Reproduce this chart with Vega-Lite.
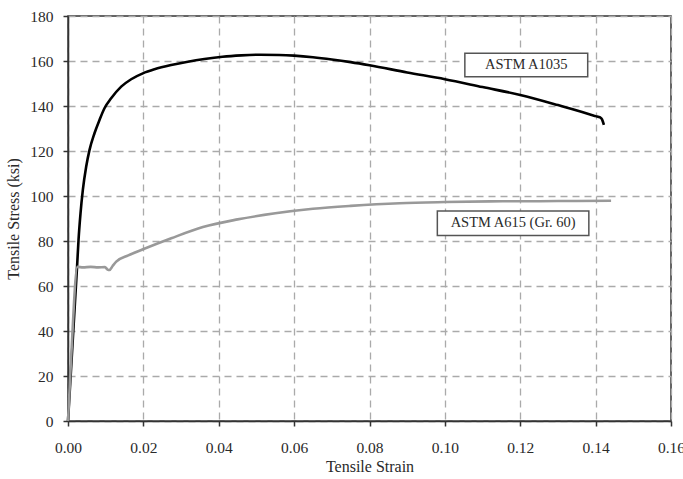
{
  "$schema": "https://vega.github.io/schema/vega-lite/v6.json",
  "width": 603,
  "height": 405,
  "autosize": {"type": "none"},
  "padding": {"left": 68, "top": 16, "right": 12, "bottom": 58},
  "background": "white",
  "config": {
    "font": "Liberation Serif",
    "view": {"stroke": "#333333", "strokeWidth": 1.5},
    "axis": {
      "labelFont": "Liberation Serif",
      "titleFont": "Liberation Serif",
      "labelFontSize": 15.5,
      "titleFontSize": 16,
      "titleFontWeight": "normal",
      "labelColor": "#2a2a2a",
      "titleColor": "#2a2a2a",
      "domainColor": "#333333",
      "domainWidth": 1.5,
      "tickColor": "#333333",
      "tickWidth": 1.5,
      "tickSize": 5,
      "gridColor": "#aaaaaa",
      "gridDash": [7, 5],
      "gridWidth": 1.3,
      "gridOpacity": 1
    }
  },
  "datasets": {
    "curves": [
      {"series": "ASTM A1035", "strain": 0, "stress": 0},
      {"series": "ASTM A1035", "strain": 0.00243, "stress": 69.3},
      {"series": "ASTM A1035", "strain": 0.00279, "stress": 80.4},
      {"series": "ASTM A1035", "strain": 0.00332, "stress": 92.3},
      {"series": "ASTM A1035", "strain": 0.00394, "stress": 102.7},
      {"series": "ASTM A1035", "strain": 0.00482, "stress": 113.0},
      {"series": "ASTM A1035", "strain": 0.00570, "stress": 120.4},
      {"series": "ASTM A1035", "strain": 0.00703, "stress": 127.9},
      {"series": "ASTM A1035", "strain": 0.00836, "stress": 133.8},
      {"series": "ASTM A1035", "strain": 0.00968, "stress": 139.0},
      {"series": "ASTM A1035", "strain": 0.01145, "stress": 143.4},
      {"series": "ASTM A1035", "strain": 0.01411, "stress": 148.6},
      {"series": "ASTM A1035", "strain": 0.01676, "stress": 151.9},
      {"series": "ASTM A1035", "strain": 0.01986, "stress": 154.5},
      {"series": "ASTM A1035", "strain": 0.02295, "stress": 156.3},
      {"series": "ASTM A1035", "strain": 0.02738, "stress": 158.2},
      {"series": "ASTM A1035", "strain": 0.0318, "stress": 159.7},
      {"series": "ASTM A1035", "strain": 0.0362, "stress": 160.9},
      {"series": "ASTM A1035", "strain": 0.0410, "stress": 161.9},
      {"series": "ASTM A1035", "strain": 0.0460, "stress": 162.5},
      {"series": "ASTM A1035", "strain": 0.0510, "stress": 162.8},
      {"series": "ASTM A1035", "strain": 0.0560, "stress": 162.7},
      {"series": "ASTM A1035", "strain": 0.0600, "stress": 162.4},
      {"series": "ASTM A1035", "strain": 0.0650, "stress": 161.7},
      {"series": "ASTM A1035", "strain": 0.0700, "stress": 160.7},
      {"series": "ASTM A1035", "strain": 0.0750, "stress": 159.5},
      {"series": "ASTM A1035", "strain": 0.0800, "stress": 158.1},
      {"series": "ASTM A1035", "strain": 0.0900, "stress": 154.9},
      {"series": "ASTM A1035", "strain": 0.1000, "stress": 151.9},
      {"series": "ASTM A1035", "strain": 0.1100, "stress": 148.4},
      {"series": "ASTM A1035", "strain": 0.1200, "stress": 144.9},
      {"series": "ASTM A1035", "strain": 0.1300, "stress": 140.4},
      {"series": "ASTM A1035", "strain": 0.1400, "stress": 135.5},
      {"series": "ASTM A1035", "strain": 0.1412, "stress": 134.9},
      {"series": "ASTM A1035", "strain": 0.1417, "stress": 134.1},
      {"series": "ASTM A1035", "strain": 0.1422, "stress": 131.6},
      {"series": "ASTM A615 (Gr. 60)", "strain": 0, "stress": 0},
      {"series": "ASTM A615 (Gr. 60)", "strain": 0.00085, "stress": 28.6},
      {"series": "ASTM A615 (Gr. 60)", "strain": 0.0025, "stress": 68.5},
      {"series": "ASTM A615 (Gr. 60)", "strain": 0.0040, "stress": 68.3},
      {"series": "ASTM A615 (Gr. 60)", "strain": 0.0060, "stress": 68.5},
      {"series": "ASTM A615 (Gr. 60)", "strain": 0.0080, "stress": 68.3},
      {"series": "ASTM A615 (Gr. 60)", "strain": 0.0098, "stress": 68.4},
      {"series": "ASTM A615 (Gr. 60)", "strain": 0.0105, "stress": 67.3},
      {"series": "ASTM A615 (Gr. 60)", "strain": 0.0110, "stress": 67.1},
      {"series": "ASTM A615 (Gr. 60)", "strain": 0.0118, "stress": 68.8},
      {"series": "ASTM A615 (Gr. 60)", "strain": 0.0128, "stress": 70.8},
      {"series": "ASTM A615 (Gr. 60)", "strain": 0.0160, "stress": 73.6},
      {"series": "ASTM A615 (Gr. 60)", "strain": 0.0199, "stress": 76.3},
      {"series": "ASTM A615 (Gr. 60)", "strain": 0.0274, "stress": 81.2},
      {"series": "ASTM A615 (Gr. 60)", "strain": 0.0358, "stress": 86.2},
      {"series": "ASTM A615 (Gr. 60)", "strain": 0.0450, "stress": 89.6},
      {"series": "ASTM A615 (Gr. 60)", "strain": 0.0550, "stress": 92.3},
      {"series": "ASTM A615 (Gr. 60)", "strain": 0.0650, "stress": 94.3},
      {"series": "ASTM A615 (Gr. 60)", "strain": 0.0750, "stress": 95.6},
      {"series": "ASTM A615 (Gr. 60)", "strain": 0.0880, "stress": 96.8},
      {"series": "ASTM A615 (Gr. 60)", "strain": 0.1000, "stress": 97.3},
      {"series": "ASTM A615 (Gr. 60)", "strain": 0.1120, "stress": 97.6},
      {"series": "ASTM A615 (Gr. 60)", "strain": 0.1250, "stress": 97.7},
      {"series": "ASTM A615 (Gr. 60)", "strain": 0.1350, "stress": 97.8},
      {"series": "ASTM A615 (Gr. 60)", "strain": 0.1441, "stress": 97.9}
    ],
    "labels": [
      {"label": "ASTM A1035", "x1": 0.1053, "x2": 0.1379, "y1": 163.4, "y2": 153.0, "xc": 0.1216, "yc": 158.2},
      {"label": "ASTM A615 (Gr. 60)", "x1": 0.0980, "x2": 0.1382, "y1": 93.3, "y2": 82.4, "xc": 0.1181, "yc": 87.9}
    ]
  },
  "layer": [
    {
      "data": {"name": "curves"},
      "mark": {"type": "line", "strokeWidth": 2.6, "interpolate": "monotone", "strokeJoin": "round"},
      "encoding": {
        "x": {
          "field": "strain", "type": "quantitative",
          "scale": {"domain": [0, 0.16], "nice": false},
          "axis": {"title": "Tensile Strain", "values": [0, 0.02, 0.04, 0.06, 0.08, 0.1, 0.12, 0.14, 0.16], "format": ".2f", "labelPadding": 14, "titlePadding": 3, "labelFlush": false, "labelOverlap": false}
        },
        "y": {
          "field": "stress", "type": "quantitative",
          "scale": {"domain": [0, 180], "nice": false},
          "axis": {"title": "Tensile Stress (ksi)", "values": [0, 20, 40, 60, 80, 100, 120, 140, 160, 180], "labelPadding": 10, "titlePadding": 8, "labelFlush": false}
        },
        "color": {
          "field": "series", "type": "nominal",
          "scale": {"domain": ["ASTM A1035", "ASTM A615 (Gr. 60)"], "range": ["#000000", "#999999"]},
          "legend": null
        }
      }
    },
    {
      "data": {"name": "labels"},
      "mark": {"type": "rect", "fill": "white", "stroke": "#555555", "strokeWidth": 1.5},
      "encoding": {
        "x": {"field": "x1", "type": "quantitative"},
        "x2": {"field": "x2"},
        "y": {"field": "y1", "type": "quantitative"},
        "y2": {"field": "y2"}
      }
    },
    {
      "data": {"name": "labels"},
      "mark": {"type": "text", "font": "Liberation Serif", "fontSize": 14.5, "color": "#2a2a2a", "align": "center", "baseline": "middle"},
      "encoding": {
        "x": {"field": "xc", "type": "quantitative"},
        "y": {"field": "yc", "type": "quantitative"},
        "text": {"field": "label"}
      }
    }
  ]
}
